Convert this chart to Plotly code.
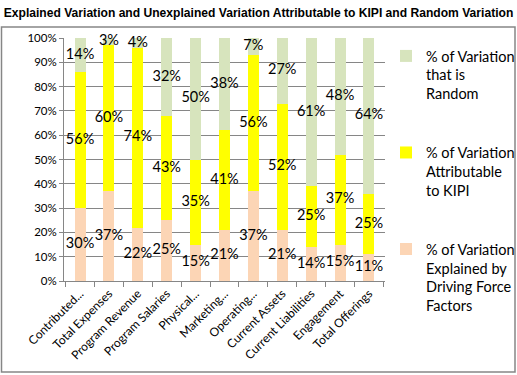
import plotly.graph_objects as go

categories = ["Contributed...", "Total Expenses", "Program Revenue", "Program Salaries",
              "Physical...", "Marketing...", "Operating...", "Current Assets",
              "Current Liabilities", "Engagement", "Total Offerings"]
explained = [30, 37, 22, 25, 15, 21, 37, 21, 14, 15, 11]
kipi = [56, 60, 74, 43, 35, 41, 56, 52, 25, 37, 25]
random_var = [14, 3, 4, 32, 50, 38, 7, 27, 61, 48, 64]

series_names = ["% of Variation<br>Explained by<br>Driving Force<br>Factors",
                "% of Variation<br>Attributable<br>to KIPI",
                "% of Variation<br>that is<br>Random"]
series_colors = ["#FCD5B5", "#FFFF00", "#D7E4BD"]
series_ranks = [3, 2, 1]
series_values = [explained, kipi, random_var]

W, H = 517, 375
L, R, T, B = 64, 132, 38, 94

fig = go.Figure()
base = [0] * len(categories)
label_x, label_y, label_t = [], [], []
for name, color, rank, vals in zip(series_names, series_colors, series_ranks, series_values):
    fig.add_trace(go.Bar(
        x=categories, y=[v / 100 for v in vals], name=name,
        marker=dict(color=color, line=dict(width=0)),
        legendgroup=name, legendrank=rank, width=0.38, hoverinfo="skip",
    ))
    for i, v in enumerate(vals):
        label_x.append(categories[i])
        label_y.append((base[i] + v / 2) / 100)
        label_t.append(f"{v}%")
        base[i] += v

fig.add_trace(go.Scatter(
    x=label_x, y=label_y, text=label_t, mode="text",
    textfont=dict(family="Lato", size=14.5, color="#000000"),
    showlegend=False, cliponaxis=False, hoverinfo="skip",
))

fig.update_layout(
    width=W, height=H, barmode="stack",
    margin=dict(l=L, r=R, t=T, b=B, autoexpand=False),
    paper_bgcolor="white", plot_bgcolor="white",
    title=dict(text="<b>Explained Variation and Unexplained Variation Attributable to KIPI and Random Variation</b>",
               x=0.5, xanchor="center", y=1 - 13 / H, yanchor="middle",
               font=dict(family="Liberation Sans", size=12.1, color="#000000")),
    legend=dict(xref="container", yref="container",
                x=386 / W, xanchor="left", y=1 - 40 / H, yanchor="top",
                traceorder="grouped", tracegroupgap=37, valign="top",
                font=dict(family="Lato", size=14.5, color="#000000"),
                itemwidth=30, bgcolor="rgba(0,0,0,0)", maxheight=330),
    showlegend=True,
    font=dict(family="Lato", color="#000000"),
)
fig.update_yaxes(range=[0, 1], tickformat=".0%", dtick=0.1,
                 showgrid=True, gridcolor="#868686", gridwidth=1,
                 showline=True, linecolor="#868686", linewidth=1,
                 ticks="outside", ticklen=4, tickcolor="#868686",
                 tickfont=dict(family="Lato", size=11.5, color="#000000"),
                 zeroline=False, automargin=False)
fig.update_xaxes(showline=True, linecolor="#868686", linewidth=1,
                 ticks="outside", ticklen=5, tickcolor="#868686",
                 tickson="boundaries", tickangle=-45, automargin=False,
                 tickfont=dict(family="Lato", size=12, color="#000000"))

pw, ph = W - L - R, H - T - B
def px_to_paper(x, y):
    return (x - L) / pw, (H - B - y) / ph
x0, y0 = px_to_paper(1.5, 372)
x1, y1 = px_to_paper(515, 27)
fig.add_shape(type="rect", xref="paper", yref="paper", x0=x0, y0=y0, x1=x1, y1=y1,
              line=dict(color="#868686", width=1.5), layer="below")

fig.write_html("out.html", config={"displayModeBar": False},
               post_script="document.body.style.margin='0';document.body.style.overflow='hidden';")
